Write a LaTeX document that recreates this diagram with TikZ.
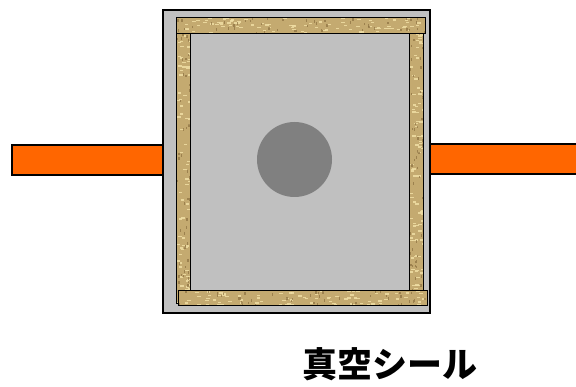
\documentclass[tikz,border=0pt]{standalone}
\usepackage{fontspec}
\newfontfamily\jpfont{Noto Sans CJK JP}
\definecolor{flange}{RGB}{255,102,0}
\definecolor{chamber}{RGB}{192,192,192}
\definecolor{sample}{RGB}{128,128,128}
\definecolor{woodtan}{RGB}{196,170,112}
\definecolor{woodlight}{RGB}{240,222,164}
\definecolor{wooddark}{RGB}{140,112,64}

\begin{document}
\begin{tikzpicture}[x=1pt,y=-1pt,
    pipe/.style={fill=flange,draw=black,line width=1.3pt},
    wall/.style={fill=chamber,draw=black,line width=1.6pt},
    seal/.style={fill=woodtan},
    sealedge/.style={draw=black,line width=0.9pt}]
  \useasboundingbox (0,0) rectangle (576,387);
  \pgfmathsetseed{17}

  % feedthrough pipes on both sides
  \draw[pipe] (12,145) rectangle (164,175);
  \draw[pipe] (430,144) rectangle (580,174);

  % chamber body
  \draw[wall] (163,10) rectangle (430,313);

  % seal strips: left, right, top, bottom
  \foreach \xa/\ya/\xb/\yb in {176/17/190/303, 409/17/423/303, 176/17/425/33, 178/290/427/305} {
    \fill[seal] (\xa,\ya) rectangle (\xb,\yb);
    \begin{scope}
      \clip (\xa,\ya) rectangle (\xb,\yb);
      \foreach \k in {1,...,90} {
        \pgfmathsetmacro\px{\xa+rnd*(\xb-\xa)}
        \pgfmathsetmacro\py{\ya+rnd*(\yb-\ya)}
        \fill[woodlight,opacity=0.85] (\px,\py) rectangle ++(3.5,1.4);
      }
      \foreach \k in {1,...,50} {
        \pgfmathsetmacro\px{\xa+rnd*(\xb-\xa)}
        \pgfmathsetmacro\py{\ya+rnd*(\yb-\ya)}
        \fill[wooddark,opacity=0.7] (\px,\py) rectangle ++(1.2,2.5);
      }
    \end{scope}
    \draw[sealedge] (\xa,\ya) rectangle (\xb,\yb);
  }

  % sample in the middle
  \fill[sample] (294.5,159.5) circle (37.5);

  \node[font=\jpfont\bfseries\fontsize{35}{40}\selectfont] (label) at (390,364) {真空シール};
\end{tikzpicture}
\end{document}
